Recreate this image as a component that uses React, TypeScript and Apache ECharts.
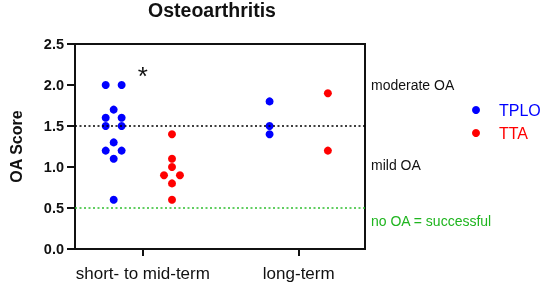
import React, { useEffect, useRef } from "react";
import * as echarts from "echarts";

const categories = ["short- to mid-term", "long-term"];
const seriesNames = ["TPLO", "TTA"];
const seriesColors = ["#0000ff", "#ff0000"];

// short- to mid-term
const tploShortValues = [2.0, 2.0, 1.7, 1.6, 1.6, 1.5, 1.5, 1.3, 1.2, 1.2, 1.1, 0.6];
const tploShortSlots = [-1, 1, 0, -1, 1, -1, 1, 0, -1, 1, 0, 0];
const ttaShortValues = [1.4, 1.1, 1.0, 0.9, 0.9, 0.8, 0.6];
const ttaShortSlots = [0, 0, 0, -1, 1, 0, 0];
// long-term
const tploLongValues = [1.8, 1.5, 1.4];
const tploLongSlots = [0, 0, 0];
const ttaLongValues = [1.9, 1.2];
const ttaLongSlots = [0, 0];

const yTicks = [0, 0.5, 1.0, 1.5, 2.0, 2.5];
const refLines = [
  { value: 1.5, color: "#000000" },
  { value: 0.5, color: "#2fbf2f" },
];
const sideLabels = [
  { text: "moderate OA", value: 2.0, color: "#111111" },
  { text: "mild OA", value: 1.03, color: "#111111" },
  { text: "no OA = successful", value: 0.34, color: "#1fb51f" },
];
const significance = { text: "*", category: 0, value: 2.11 };

const FONT = "'Liberation Sans', Arial, Helvetica, sans-serif";
const X_MIN = 0.565;
const X_MAX = 2.425;
const GROUP_OFFSET = 0.187;
const JITTER = 0.051;

function build(values: number[], slots: number[], catIdx: number, groupSign: number) {
  return values.map((v, i) => [catIdx + 1 + groupSign * GROUP_OFFSET + slots[i] * JITTER, v]);
}

export default function App() {
  const ref = useRef<HTMLDivElement>(null);
  useEffect(() => {
    if (!ref.current) return;
    const chart = echarts.init(ref.current, null, { renderer: "svg" });
    const tploData = [
      ...build(tploShortValues, tploShortSlots, 0, -1),
      ...build(tploLongValues, tploLongSlots, 1, -1),
    ];
    const ttaData = [
      ...build(ttaShortValues, ttaShortSlots, 0, 1),
      ...build(ttaLongValues, ttaLongSlots, 1, 1),
    ];
    chart.setOption({
      animation: false,
      textStyle: { fontFamily: FONT },
      title: {
        text: "Osteoarthritis",
        left: 212,
        textAlign: "center",
        top: 0,
        padding: 0,
        textStyle: { fontSize: 19.5, fontWeight: "bold", color: "#111", fontFamily: FONT },
      },
      grid: {
        left: 59.5,
        right: 181,
        top: 44,
        bottom: 35,
        show: true,
        borderColor: "#111",
        borderWidth: 2,
        backgroundColor: "transparent",
      },
      legend: {
        orient: "vertical",
        left: 467,
        top: 97,
        itemWidth: 8,
        itemHeight: 8,
        itemGap: 7,
        icon: "circle",
        data: seriesNames.map((n, i) => ({
          name: n,
          textStyle: { color: seriesColors[i], fontSize: 16, fontFamily: FONT, padding: [0, 0, 0, 14], lineHeight: 16 },
        })),
      },
      xAxis: {
        type: "value",
        min: X_MIN,
        max: X_MAX,
        splitLine: { show: false },
        axisLine: { show: true, lineStyle: { color: "#111", width: 2 } },
        axisTick: { show: true, length: 7, customValues: [1, 2], lineStyle: { color: "#111", width: 2 } },
        axisLabel: {
          customValues: [1, 2],
          formatter: (v: number) => categories[Math.round(v) - 1] ?? "",
          fontSize: 17,
          color: "#111",
          margin: 16,
          fontFamily: FONT,
        },
      },
      yAxis: {
        type: "value",
        min: 0,
        max: 2.5,
        interval: 0.5,
        name: "OA Score",
        nameLocation: "middle",
        nameGap: 51,
        nameTextStyle: { fontSize: 16, fontWeight: "bold", color: "#111", fontFamily: FONT },
        splitLine: { show: false },
        axisLine: { show: true, lineStyle: { color: "#111", width: 2 } },
        axisTick: { show: true, length: 8, lineStyle: { color: "#111", width: 2 } },
        axisLabel: {
          formatter: (v: number) => (yTicks.includes(v) ? v.toFixed(1) : ""),
          fontSize: 14.5,
          fontWeight: "bold",
          color: "#111",
          margin: 11,
          fontFamily: FONT,
        },
      },
      series: [
        {
          name: "TPLO",
          type: "scatter",
          symbolSize: 8,
          itemStyle: { color: seriesColors[0], opacity: 1 },
          data: tploData,
          z: 3,
          markLine: {
            silent: true,
            symbol: "none",
            label: { show: false },
            data: refLines.map((r) => ({
              yAxis: r.value,
              lineStyle: { color: r.color, width: 1.6, type: [2, 2.5] },
            })),
          },
        },
        {
          name: "TTA",
          type: "scatter",
          symbolSize: 8,
          itemStyle: { color: seriesColors[1], opacity: 1 },
          data: ttaData,
          z: 3,
        },
      ],
    });

    const graphics: any[] = sideLabels.map((s) => {
      const p = chart.convertToPixel({ gridIndex: 0 }, [X_MAX, s.value]) as number[];
      return {
        type: "text",
        x: p[0] + 6,
        y: p[1],
        style: { text: s.text, fill: s.color, font: `14px ${FONT}`, verticalAlign: "middle", align: "left" },
      };
    });
    const sp = chart.convertToPixel({ gridIndex: 0 }, [significance.category + 1, significance.value]) as number[];
    graphics.push({
      type: "text",
      x: sp[0],
      y: sp[1],
      style: { text: significance.text, fill: "#111", font: `26px ${FONT}`, align: "center", verticalAlign: "middle" },
    });
    chart.setOption({ graphic: graphics });

    return () => chart.dispose();
  }, []);
  return <div ref={ref} style={{ position: "fixed", left: 0, top: 0, width: 546, height: 284 }} />;
}
